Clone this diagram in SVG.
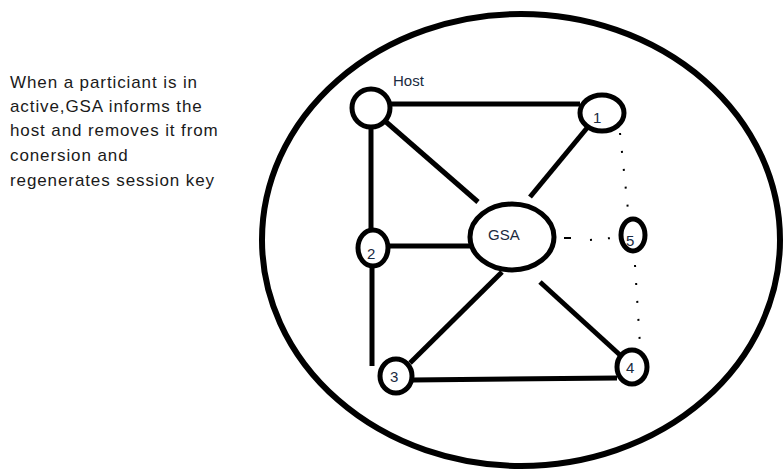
<svg xmlns="http://www.w3.org/2000/svg" width="783" height="472" viewBox="0 0 783 472">
<style>
.n{fill:#fff;stroke:#000;stroke-width:5}
.e{stroke:#000;stroke-width:5;fill:none;stroke-linecap:butt}
.d{stroke:#000;stroke-width:2;fill:none;stroke-dasharray:2 16}
.t{font-family:"Liberation Sans",Arial,sans-serif;font-size:17px;fill:#1a1a1a;letter-spacing:0.9px}
.l{font-family:"Liberation Sans",Arial,sans-serif;font-size:15px;fill:#1a2a40}
</style>
<rect width="783" height="472" fill="#fff"/>
<g id="caption">
<text class="t" x="10" y="88">When a particiant is in</text>
<text class="t" x="10" y="112">active,GSA informs the</text>
<text class="t" x="10" y="136">host and removes it from</text>
<text class="t" x="10" y="161">conersion and</text>
<text class="t" x="10" y="186">regenerates session key</text>
</g>
<g id="boundary"><ellipse cx="521" cy="240" rx="259" ry="226" fill="none" stroke="#000" stroke-width="6"/></g>
<g id="connectors">
<line class="e" x1="390" y1="104" x2="580" y2="104"/>
<line class="e" x1="385" y1="121" x2="478" y2="202"/>
<line class="e" x1="587" y1="128" x2="530" y2="197"/>
<line class="e" x1="371" y1="126" x2="371" y2="231"/>
<line class="e" x1="388" y1="246" x2="471" y2="246"/>
<line class="e" x1="372" y1="266" x2="372" y2="366"/>
<line class="e" x1="502" y1="272" x2="410" y2="363"/>
<line class="e" x1="540" y1="282" x2="620" y2="355"/>
<line class="e" x1="412" y1="380" x2="617" y2="378"/>
<path class="d" d="M620 133 L628 210"/>
<path class="d" d="M635 265 L640 345"/>
<path class="d" d="M590 240 L612 238"/>
<line x1="564" y1="238" x2="571" y2="238" stroke="#000" stroke-width="2"/>
</g>
<g id="host"><circle class="n" cx="371" cy="108" r="19"/><text class="l" x="393" y="86">Host</text></g>
<g id="n1"><ellipse class="n" cx="602" cy="113" rx="22" ry="18"/><text class="l" x="593" y="123">1</text></g>
<g id="gsa"><ellipse class="n" cx="512" cy="237" rx="42" ry="33"/><text class="l" x="488" y="240">GSA</text></g>
<g id="n2"><ellipse class="n" cx="373" cy="248" rx="15" ry="18"/><text class="l" x="367" y="259">2</text></g>
<g id="n5"><ellipse class="n" cx="633" cy="235" rx="12" ry="16"/><text class="l" x="626" y="246">5</text></g>
<g id="n3"><ellipse class="n" cx="396" cy="376" rx="16" ry="17"/><text class="l" x="390" y="382">3</text></g>
<g id="n4"><ellipse class="n" cx="632" cy="367" rx="15" ry="17"/><text class="l" x="626" y="373">4</text></g>
</svg>
